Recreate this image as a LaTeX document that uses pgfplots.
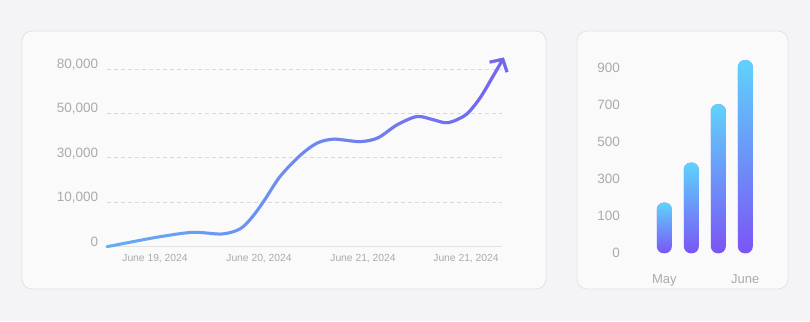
\documentclass[border=0pt]{standalone}
\usepackage{pgfplots}
\pgfplotsset{compat=1.18}
\usepackage{pgfplotstable}
\usepackage{fontspec}
\setmainfont{Liberation Sans}
\usetikzlibrary{fadings,arrows.meta}
\definecolor{bg}{HTML}{F4F4F6}
\definecolor{panel}{HTML}{FAFAFB}
\definecolor{pborder}{HTML}{E3E3E6}
\definecolor{lab}{HTML}{ABABAE}
\definecolor{gridc}{HTML}{D9D9DC}
\definecolor{basec}{HTML}{E2E2E6}
\definecolor{lineblue}{HTML}{64AEF4}
\definecolor{linepurple}{HTML}{7A63EE}
\definecolor{barcyan}{HTML}{5FD3FC}
\definecolor{barpurple}{HTML}{7B55F6}
\tikzfading[name=fadeinright, left color=transparent!100, right color=transparent!0]
\tikzfading[name=fadedown, top color=transparent!0, bottom color=transparent!100]

\pgfplotstableread{
x v
107 0
133 0.113
160 0.225
193 0.324
222 0.286
240 0.40
252 0.66
264 1.03
280 1.577
300 2.05
317 2.33
334 2.42
360 2.365
378 2.45
397 2.74
417 2.93
433 2.86
448 2.79
466 2.97
480 3.342
493 3.829
504 4.257
}\linedata

\pgfplotsset{
  barbase/.style={ybar, bar width=15pt, bar shift=0pt, draw=none, fill=barpurple, rounded corners=7pt},
  bartop/.style={ybar, bar width=15pt, bar shift=0pt, draw=none, fill=barcyan, rounded corners=7pt, path fading=fadedown}}

\begin{document}
\begin{tikzpicture}[x=1pt,y=1pt]
\fill[bg] (0,0) rectangle (810,321);
\filldraw[fill=panel, draw=pborder, line width=0.8pt, rounded corners=10pt] (22,32) rectangle (546,290);
\filldraw[fill=panel, draw=pborder, line width=0.8pt, rounded corners=10pt] (577,32) rectangle (788,290);

\begin{axis}[at={(107pt,74.3pt)}, anchor=south west, scale only axis,
  width=395pt, height=177.7pt,
  xmin=107, xmax=502, ymin=0, ymax=4, clip=false,
  axis line style={draw=none}, major tick length=0pt,
  ytick={0,1,2,3,4}, yticklabels={0,{10,000},{30,000},{50,000},{80,000}},
  xtick={155,259,363,466},
  xticklabels={{June 19, 2024},{June 20, 2024},{June 21, 2024},{June 21, 2024}},
  ymajorgrids, grid style={gridc, line width=0.8pt, dash pattern=on 4pt off 3pt},
  yticklabel style={font=\fontsize{13.5}{14}\selectfont, text=lab, anchor=east, inner sep=0pt, xshift=-8.7pt, yshift=4.6pt},
  xticklabel style={font=\fontsize{10.3}{12}\selectfont, text=lab, anchor=north, inner sep=0pt, yshift=-7pt},
]
\draw[basec, line width=1.6pt] (axis cs:107,0) -- (axis cs:502,0);
\addplot[smooth, line width=3pt, lineblue, line cap=round, -{Straight Barb[length=9pt,width=20pt]}] table[x=x,y=v]{\linedata};
\addplot[smooth, line width=3pt, linepurple, line cap=round, path fading=fadeinright, -{Straight Barb[length=9pt,width=20pt]}] table[x=x,y=v]{\linedata};
\end{axis}

\begin{axis}[at={(621.1pt,67.7pt)}, anchor=south west, scale only axis,
  width=151.2pt, height=185pt,
  xmin=-0.6, xmax=5, ymin=0, ymax=5, clip=false,
  axis line style={draw=none}, major tick length=0pt,
  ytick={0,1,2,3,4,5}, yticklabels={0,100,300,500,700,900},
  xtick={1,4}, xticklabels={May,June},
  yticklabel style={font=\fontsize{13.5}{14}\selectfont, text=lab, anchor=east, inner sep=0pt, xshift=-1pt},
  xticklabel style={font=\fontsize{13}{14}\selectfont, text=lab, anchor=north, inner sep=0pt, yshift=-21pt},
]
\addplot[barbase] coordinates {(1,1.37)};
\addplot[bartop] coordinates {(1,1.37)};
\addplot[barbase] coordinates {(2,2.45)};
\addplot[bartop] coordinates {(2,2.45)};
\addplot[barbase] coordinates {(3,4.03)};
\addplot[bartop] coordinates {(3,4.03)};
\addplot[barbase] coordinates {(4,5.22)};
\addplot[bartop] coordinates {(4,5.22)};
\end{axis}
\end{tikzpicture}
\end{document}
